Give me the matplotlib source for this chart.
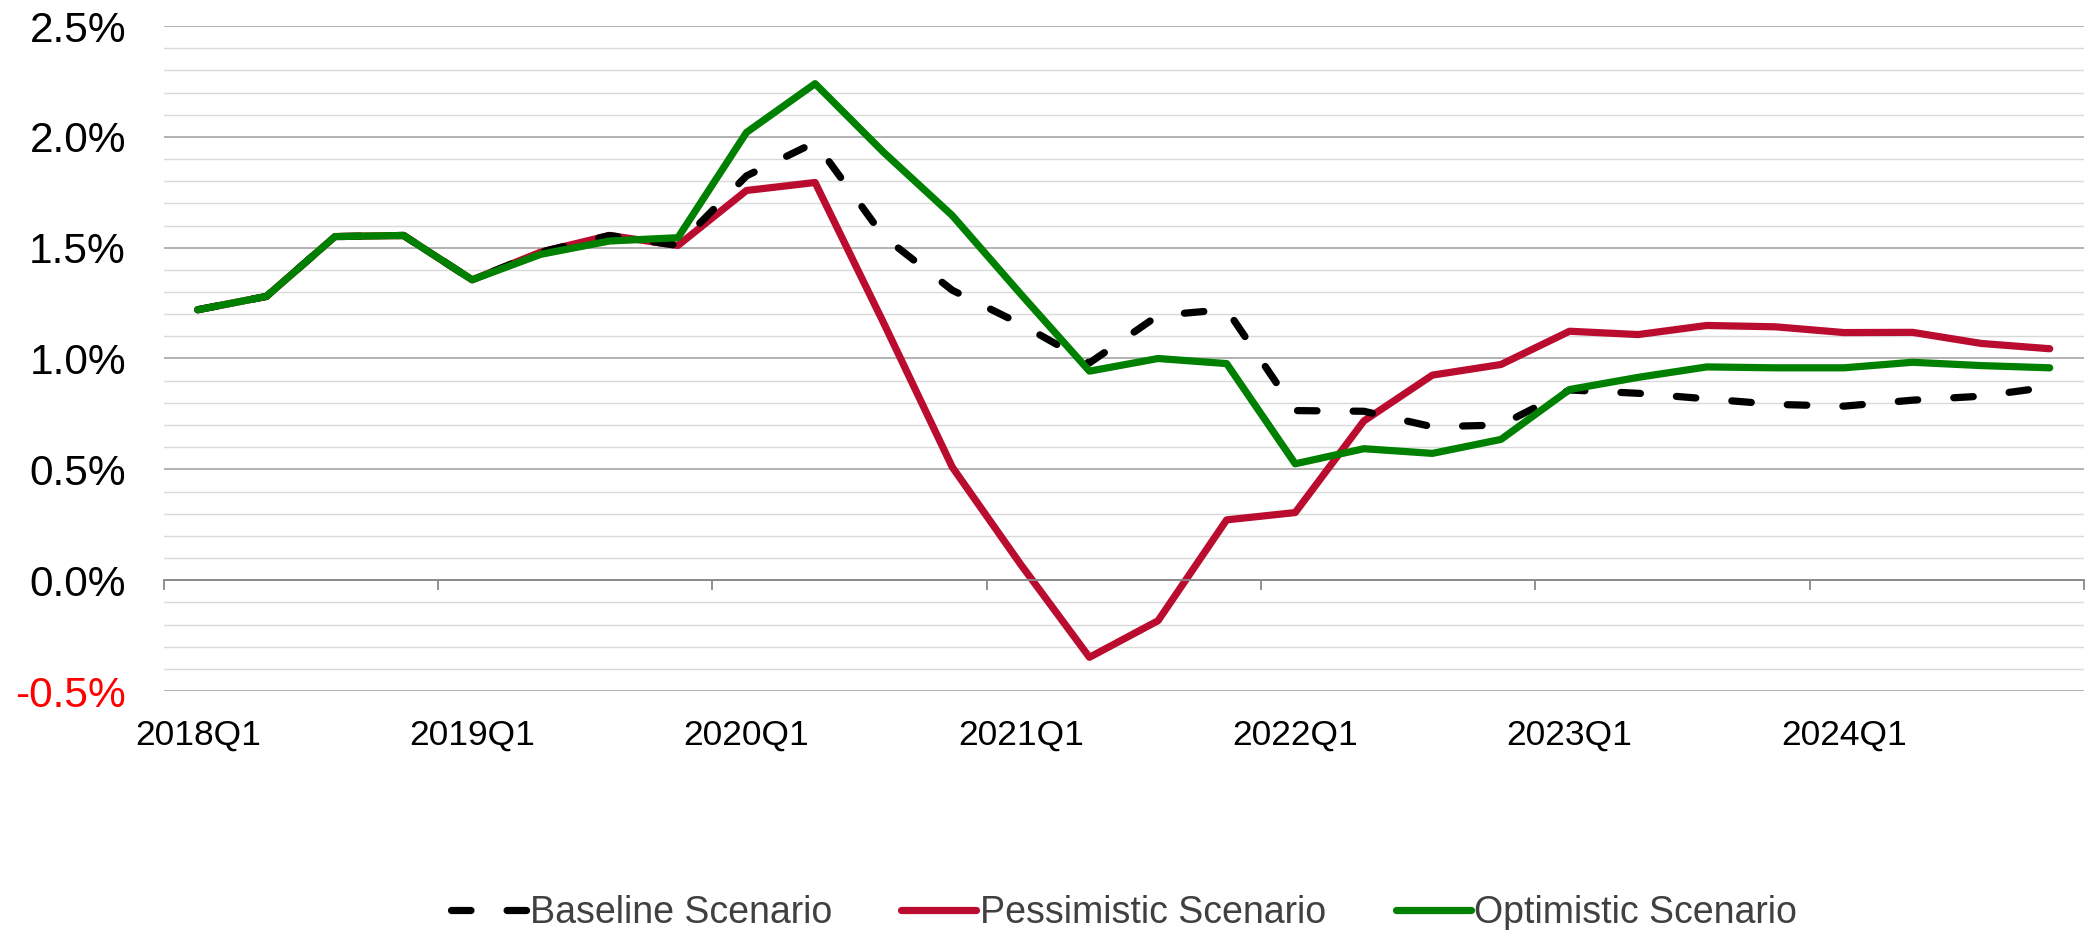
import numpy as np
import matplotlib
matplotlib.use('Agg')
import matplotlib.pyplot as plt

plt.rcParams['font.family'] = ['Liberation Sans', 'DejaVu Sans']

# Quarterly growth rates (%), 2018Q1 - 2024Q4
quarters = [f'{y}Q{q}' for y in range(2018, 2025) for q in range(1, 5)]

baseline = [1.22, 1.28, 1.55, 1.555, 1.355, 1.48, 1.555, 1.51,
            1.824, 1.975, 1.55, 1.308, 1.155, 0.98, 1.194, 1.221,
            0.765, 0.762, 0.692, 0.70, 0.858, 0.843, 0.818, 0.793,
            0.785, 0.812, 0.83, 0.872]
pessimistic = [1.22, 1.28, 1.55, 1.555, 1.355, 1.48, 1.555, 1.51,
               1.758, 1.794, 1.16, 0.51, 0.07, -0.348, -0.183, 0.272,
               0.305, 0.718, 0.925, 0.973, 1.123, 1.108, 1.149, 1.143,
               1.117, 1.118, 1.068, 1.044]
optimistic = [1.22, 1.28, 1.55, 1.555, 1.355, 1.47, 1.53, 1.545,
              2.02, 2.24, 1.93, 1.645, 1.29, 0.943, 1.0, 0.977,
              0.525, 0.593, 0.572, 0.635, 0.86, 0.915, 0.962, 0.958,
              0.958, 0.983, 0.968, 0.958]

fig = plt.figure(figsize=(20.85, 9.3), dpi=100)
ax = fig.add_axes([163.5 / 2085, 1 - 691 / 930, (2084 - 163.5) / 2085, (691 - 26) / 930])

x = np.arange(len(quarters))
lw = 5.2
ax.plot(x, baseline, color='black', lw=lw, dashes=(2.7, 5.0),
        dash_capstyle='round', solid_joinstyle='round', zorder=3, label='Baseline Scenario')
ax.plot(x, pessimistic, color='#BA0C2F', lw=lw, solid_capstyle='round',
        zorder=2, label='Pessimistic Scenario')
ax.plot(x, optimistic, color='#008000', lw=lw, solid_capstyle='round',
        zorder=4, label='Optimistic Scenario')

ax.set_xlim(-0.5, len(quarters) - 0.5)
ax.set_ylim(-0.5, 2.5)

# y axis: major every 0.5, minor every 0.1
yt = np.arange(-0.5, 2.51, 0.5)
ax.set_yticks(yt)
ax.set_yticklabels([f'{v:.1f}%' for v in yt])
for lab, v in zip(ax.get_yticklabels(), yt):
    if v < 0:
        lab.set_color('#FF0000')
ax.set_yticks(np.arange(-0.5, 2.51, 0.1), minor=True)
ax.tick_params(axis='y', which='both', length=0, pad=27, labelsize=30.5)
ax.yaxis.grid(True, which='major', color='#A6A6A6', lw=1.2)
ax.yaxis.grid(True, which='minor', color='#D9D9D9', lw=1.0)
ax.set_axisbelow(True)

for s in ['left', 'top', 'right']:
    ax.spines[s].set_visible(False)

# category axis crosses at zero, ticks between categories
ax.spines['bottom'].set_position(('data', 0))
ax.spines['bottom'].set_color('#898989')
ax.spines['bottom'].set_linewidth(1.3)
ax.set_xticks(np.arange(-0.5, len(quarters), 4))
ax.set_xticklabels([])
ax.tick_params(axis='x', length=7.5, width=1.3, color='#898989', direction='out')

# labels sit at the bottom of the plot area
sec = ax.secondary_xaxis(0)
sec.set_xticks(x[::4])
sec.set_xticklabels(quarters[::4])
sec.tick_params(length=0, pad=20, labelsize=25.5)
sec.spines['bottom'].set_visible(False)

fig.legend(loc='center', bbox_to_anchor=(1124 / 2085, 1 - 913 / 930), ncol=3,
           frameon=False, fontsize=27, labelcolor='#404040',
           handlelength=2.0, handletextpad=0.1, columnspacing=1.85)

fig.savefig('out.png', dpi=100)
